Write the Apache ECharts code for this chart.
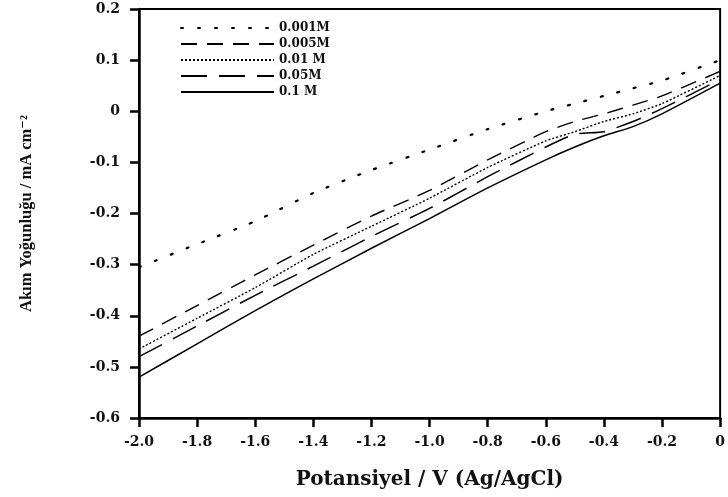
<!DOCTYPE html>
<html>
<head>
<meta charset="utf-8">
<script src="https://cdn.jsdelivr.net/npm/echarts@6/dist/echarts.min.js"></script>
<style>
  html, body { margin: 0; padding: 0; background: #fff; }
  #chart { width: 728px; height: 497px; }
</style>
</head>
<body>
<div id="chart"></div>
<script>
// Potential (V vs Ag/AgCl) sampling points
const potential = [-2.0, -1.8, -1.6, -1.4, -1.2, -1.0, -0.8, -0.6, -0.5, -0.4, -0.3, -0.2, 0.0];

// Current density (mA cm^-2) for each concentration
const c0001 = [-0.305, -0.26, -0.215, -0.16, -0.115, -0.075, -0.035, 0.0, 0.015, 0.03, 0.045, 0.06, 0.10];
const c0005 = [-0.44, -0.38, -0.32, -0.262, -0.205, -0.155, -0.095, -0.04, -0.02, -0.005, 0.012, 0.03, 0.078];
const c001  = [-0.465, -0.405, -0.345, -0.28, -0.225, -0.17, -0.11, -0.058, -0.04, -0.02, -0.005, 0.015, 0.07];
const c005  = [-0.48, -0.42, -0.36, -0.303, -0.245, -0.19, -0.128, -0.07, -0.045, -0.04, -0.02, 0.005, 0.062];
const c01   = [-0.52, -0.455, -0.39, -0.328, -0.268, -0.21, -0.15, -0.095, -0.07, -0.048, -0.03, -0.005, 0.055];

const seriesNames = ['0.001M', '0.005M', '0.01 M', '0.05M', '0.1 M'];

// Axis ranges and tick steps
const xMin = -2.0, xMax = 0.0, xStep = 0.2;
const yMin = -0.6, yMax = 0.2, yStep = 0.1;

const pairs = (ys) => potential.map((x, i) => [x, ys[i]]);

const font = '"DejaVu Serif", "Liberation Serif", serif';
const narrowFont = '"Liberation Serif", "DejaVu Serif", serif';

const styles = [
  { type: [2, 15], width: 2.2, cap: 'round' },
  { type: [16, 10], width: 1.4, cap: 'butt' },
  { type: [2, 2], width: 1.4, cap: 'butt' },
  { type: [26, 12], width: 1.5, cap: 'butt' },
  { type: 'solid', width: 1.5, cap: 'butt' }
];

const data = [c0001, c0005, c001, c005, c01];

const tickFmt = (v) => (Math.abs(v) < 1e-9 ? '0' : v.toFixed(1));

const chart = echarts.init(document.getElementById('chart'), null, { renderer: 'canvas' });

chart.setOption({
  animation: false,
  backgroundColor: '#ffffff',
  grid: {
    left: 139, right: 5, top: 9, bottom: 79,
    show: true, borderColor: '#000', borderWidth: 2, backgroundColor: 'transparent'
  },
  legend: {
    orient: 'vertical',
    left: 175, top: 17,
    itemWidth: 93, itemHeight: 12, itemGap: 4,
    itemStyle: { color: 'rgba(0,0,0,0)', borderWidth: 0 },
    textStyle: { fontFamily: font, fontSize: 12, color: '#111', fontWeight: 'bold' },
    data: seriesNames
  },
  xAxis: {
    type: 'value',
    min: xMin, max: xMax, interval: xStep,
    name: 'Potansiyel / V (Ag/AgCl)',
    nameLocation: 'middle', nameGap: 52,
    nameTextStyle: { fontFamily: font, fontSize: 20, fontWeight: 'bold', color: '#111' },
    axisLine: { onZero: false, lineStyle: { color: '#000', width: 2.5 } },
    axisTick: { inside: false, length: 9, lineStyle: { color: '#000', width: 2.5 } },
    axisLabel: {
      margin: 17, fontFamily: font, fontSize: 14, fontWeight: 'bold', color: '#111',
      formatter: tickFmt
    },
    splitLine: { show: false }
  },
  yAxis: {
    type: 'value',
    min: yMin, max: yMax, interval: yStep,
    name: 'Akım Yoğunluğu / mA cm⁻²',
    nameLocation: 'middle', nameGap: 104,
    nameTextStyle: { fontFamily: narrowFont, fontSize: 16.5, fontWeight: 'bold', color: '#111' },
    axisLine: { onZero: false, lineStyle: { color: '#000', width: 2.5 } },
    axisTick: { inside: false, length: 9, lineStyle: { color: '#000', width: 2.5 } },
    axisLabel: {
      margin: 19, fontFamily: font, fontSize: 14, fontWeight: 'bold', color: '#111',
      formatter: tickFmt
    },
    splitLine: { show: false }
  },
  series: seriesNames.map((name, i) => ({
    name,
    type: 'line',
    data: pairs(data[i]),
    showSymbol: false,
    symbol: 'none',
    smooth: 0.2,
    lineStyle: { color: '#000', width: styles[i].width, type: styles[i].type, cap: styles[i].cap },
    itemStyle: { color: '#000' }
  }))
});
</script>
</body>
</html>
